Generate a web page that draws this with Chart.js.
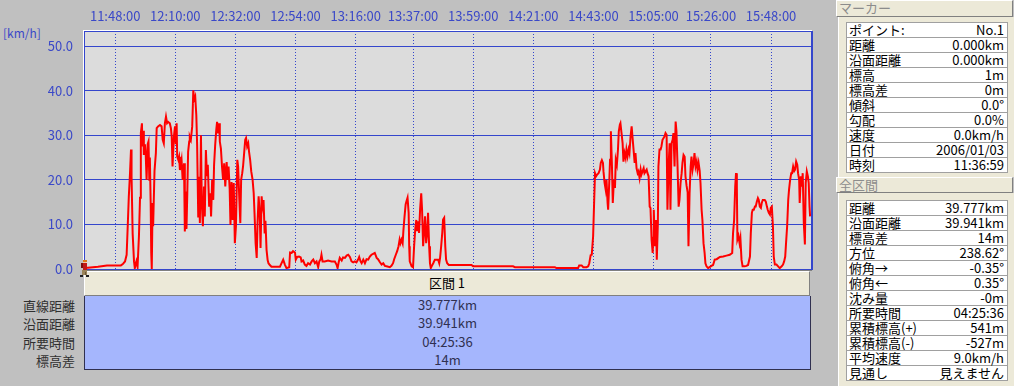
<!DOCTYPE html>
<html lang="ja">
<head>
<meta charset="utf-8">
<title>速度グラフ</title>
<script src="https://cdn.jsdelivr.net/npm/chart.js@4.4.1/dist/chart.umd.min.js"></script>
<style>
  body {
    margin: 0;
    width: 1014px;
    height: 386px;
    background: #c0c0c0;
    position: relative;
    overflow: hidden;
    font-family: "Noto Sans CJK JP", sans-serif;
  }
  #chart-wrap { position: absolute; left: 0; top: 0; width: 830px; height: 282px; z-index: 2; }
  #unit { position: absolute; left: 3px; top: 26px; font-size: 12px; line-height: 14px; color: #3a48c8; }
  #section-head {
    position: absolute; left: 84px; top: 271px; width: 726px; height: 25px;
    box-sizing: border-box; background: #ece9d8;
    border-top: 1px solid #fff; border-left: 1px solid #fff;
    border-bottom: 1px solid #808080; border-right: 1px solid #808080;
    text-align: center; font-size: 13px; line-height: 22px; color: #000;
  }
  #section-body {
    position: absolute; left: 84px; top: 296px; width: 727px; height: 74px;
    box-sizing: border-box; background: #a5b6fd;
    border: 1px solid #303050; border-top: none;
  }
  #section-labels { position: absolute; left: 0; top: 297px; width: 75px; }
  .srow { height: 18.25px; line-height: 18.25px; font-size: 13px; }
  #section-labels .srow { text-align: right; color: #303030; }
  #section-body .srow { text-align: center; color: #303050; }
  .side-head {
    position: absolute; left: 836px; width: 177px; box-sizing: border-box;
    background: #ece9d8; border-top: 1px solid #fff; border-left: 1px solid #fff;
    border-bottom: 1px solid #808080; border-right: 1px solid #808080;
    font-size: 13px; line-height: 14px; padding-left: 2px; color: #8c8c8c;
  }
  .side-panel { position: absolute; left: 838px; width: 175px; background: #ece9d8; border-left: 1px solid #fff; }
  .side-table {
    position: absolute; left: 846px; width: 162px; box-sizing: border-box;
    background: #fff; border: 1px solid #a0a0a0; border-bottom: none;
  }
  .trow {
    height: 15px; box-sizing: border-box; border-bottom: 1px solid #a0a0a0;
    display: flex; justify-content: space-between; padding: 0 3px 0 2px;
    font-size: 13px; line-height: 14px; color: #000; white-space: nowrap;
  }
</style>
</head>
<body>
<div id="chart-wrap"><canvas id="speed-chart" width="830" height="282"></canvas></div>
<div id="unit">[km/h]</div>
<div id="section-head">区間 1</div>
<div id="section-labels"></div>
<div id="section-body"></div>

<div class="side-head" style="top:0;height:17px">マーカー</div>
<div class="side-panel" style="top:17px;height:160px"></div>
<div class="side-table" id="marker-table" style="top:22px"></div>
<div class="side-head" style="top:177px;height:16px">全区間</div>
<div class="side-panel" style="top:193px;height:193px"></div>
<div class="side-table" id="total-table" style="top:200px"></div>

<script>
// Time axis: minutes elapsed since the first point (11:36:59)
const startTime = '11:36:59';
const timeTickLabels = ['11:48:00', '12:10:00', '12:32:00', '12:54:00', '13:16:00', '13:37:00',
  '13:59:00', '14:21:00', '14:43:00', '15:05:00', '15:26:00', '15:48:00'];
const speedTicks = [0, 10, 20, 30, 40, 50];

// Speed trace (elapsed minutes / km/h)
const elapsedMin = [
  0, 0.3, 1.0, 4.7, 8.0, 13.1, 13.8, 14.6, 15.2, 15.6,
  16.0, 16.4, 16.8, 17.0, 17.4, 17.9, 18.2, 18.8, 19.2, 19.7,
  20.1, 20.4, 20.8, 21.0, 21.3, 21.5, 21.9, 22.2, 22.5, 22.9,
  23.2, 23.5, 23.7, 24.0, 24.2, 24.4, 24.7, 24.9, 25.4, 25.9,
  26.2, 26.7, 27.4, 28.0, 28.4, 28.8, 29.2, 29.6, 30.0, 30.4,
  31.0, 31.4, 31.7, 32.0, 32.5, 32.9, 33.2, 33.5, 33.7, 34.1,
  34.4, 34.7, 35.3, 35.7, 36.2, 36.5, 36.9, 37.1, 37.4, 37.7,
  38.1, 38.3, 38.7, 39.2, 39.6, 39.9, 40.3, 40.7, 41.0, 41.4,
  41.6, 42.0, 42.4, 42.7, 43.1, 43.5, 43.8, 44.2, 44.6, 44.9,
  45.4, 45.8, 46.1, 46.5, 46.9, 47.2, 47.6, 48.0, 48.3, 48.7,
  49.1, 49.3, 49.7, 50.1, 50.5, 50.9, 51.3, 51.8, 52.1, 52.5,
  52.9, 53.2, 53.6, 54.0, 54.4, 54.8, 55.2, 55.7, 56.0, 56.4,
  56.8, 57.1, 57.5, 57.8, 58.2, 58.6, 58.9, 59.3, 59.7, 60.0,
  60.4, 60.8, 61.3, 61.7, 62.0, 62.4, 62.8, 63.1, 63.5, 63.9,
  64.2, 64.6, 64.9, 65.3, 65.7, 66.0, 66.4, 66.8, 67.1, 67.6,
  68.2, 71.3, 71.9, 72.5, 73.1, 73.7, 74.7, 75.0, 75.6, 76.1,
  76.8, 77.1, 77.6, 78.3, 78.9, 79.2, 79.8, 80.4, 81.0, 81.6,
  82.3, 82.9, 83.5, 84.1, 84.7, 85.3, 85.7, 86.2, 86.5, 86.9,
  87.7, 88.9, 90.2, 91.4, 92.0, 92.4, 92.8, 93.2, 93.9, 94.4,
  95.1, 95.7, 96.3, 96.9, 97.5, 98.1, 98.7, 99.3, 99.9, 100.3,
  100.8, 101.2, 101.8, 102.4, 103.0, 103.6, 104.2, 104.8, 105.4, 106.0,
  106.7, 107.2, 107.9, 108.5, 109.1, 109.7, 110.3, 111.5, 112.1, 112.7,
  113.1, 113.7, 114.2, 114.7, 115.1, 115.4, 115.8, 116.2, 116.5, 116.9,
  117.3, 117.6, 118.0, 118.4, 118.6, 118.8, 119.5, 120.0, 120.4, 120.8,
  121.2, 121.5, 121.9, 122.2, 122.6, 123.0, 123.3, 123.7, 124.1, 124.4,
  124.8, 125.2, 125.5, 125.9, 126.2, 126.5, 126.9, 127.4, 128.0, 129.2,
  129.6, 129.9, 130.3, 130.7, 131.0, 131.4, 131.8, 132.1, 132.5, 133.1,
  141.4, 142.0, 156.6, 157.3, 171.9, 172.5, 179.8, 180.4, 180.8, 181.7,
  182.3, 183.5, 184.1, 184.5, 185.0, 185.4, 185.9, 186.3, 186.6, 187.0,
  187.4, 187.9, 188.4, 188.7, 189.1, 189.5, 189.7, 190.1, 190.5, 190.8,
  191.2, 191.4, 191.8, 192.1, 192.4, 192.8, 193.1, 193.5, 193.9, 194.2,
  194.6, 195.0, 195.3, 195.7, 195.9, 196.3, 196.7, 197.0, 197.4, 197.8,
  198.1, 198.5, 198.9, 199.2, 199.6, 200.0, 200.3, 200.7, 201.1, 201.4,
  201.8, 202.2, 202.5, 202.9, 203.3, 203.6, 204.0, 204.4, 204.7, 205.1,
  205.5, 205.8, 206.2, 206.6, 206.9, 207.3, 207.7, 207.9, 208.1, 208.5,
  208.9, 209.2, 209.6, 209.8, 210.2, 210.6, 210.9, 211.3, 211.7, 212.0,
  212.4, 212.8, 213.1, 213.5, 213.9, 214.2, 214.6, 215.0, 215.3, 215.7,
  216.1, 216.4, 216.8, 217.2, 217.5, 217.9, 218.3, 218.6, 219.0, 219.4,
  219.7, 220.1, 220.5, 220.8, 221.2, 221.6, 221.9, 222.3, 222.7, 223.0,
  223.4, 223.8, 224.1, 224.5, 224.9, 225.2, 225.6, 225.9, 226.3, 226.7,
  227.0, 227.4, 228.0, 229.2, 229.8, 230.4, 231.1, 232.3, 233.5, 234.7,
  235.9, 236.8, 237.1, 237.5, 237.9, 238.2, 238.5, 238.7, 239.1, 239.5,
  239.8, 240.2, 240.6, 241.4, 242.0, 242.6, 243.3, 243.6, 244.0, 244.3,
  244.7, 245.1, 245.4, 245.8, 246.2, 246.5, 246.9, 247.3, 247.6, 248.0,
  248.4, 248.7, 249.1, 249.5, 249.8, 250.2, 250.6, 250.9, 251.3, 251.7,
  252.0, 252.4, 253.0, 253.6, 254.2, 254.9, 255.4, 255.8, 256.2, 256.5,
  256.9, 257.3, 257.6, 258.0, 258.4, 258.7, 259.1, 259.5, 259.8, 260.2,
  260.6, 260.9, 261.3, 261.5, 261.9, 262.3, 262.6, 263.0, 263.4, 263.7,
  264.1, 264.5, 264.8, 265.1, 265.3
];

const speedKmh = [
  0, 0.3, 0.3, 0.5, 0.8, 0.8, 1.1, 1.7, 3.2, 9.6,
  16.3, 21.0, 26.8, 20.8, 8.0, 1.7, 0.2, 1.7, 0.5, 7.3,
  16.0, 30.5, 32.7, 27.5, 31.0, 25.6, 28.0, 25.5, 20.0, 28.0,
  28.6, 20.0, 25.0, 14.8, 3.6, 0.0, 14.8, 9.6, 22.0, 26.0,
  31.6, 32.0, 32.3, 32.0, 29.0, 28.2, 32.7, 34.2, 32.7, 33.0,
  32.7, 31.6, 29.7, 23.0, 29.7, 32.0, 28.0, 32.7, 25.2, 24.5,
  25.2, 22.2, 24.5, 20.0, 23.7, 8.4, 17.4, 9.0, 17.0, 26.3,
  28.6, 29.7, 29.0, 32.0, 40.1, 38.0, 38.7, 34.5, 27.8, 11.8,
  20.7, 10.3, 30.0, 14.8, 9.6, 18.5, 11.8, 26.7, 20.8, 23.4,
  14.0, 17.0, 11.8, 20.0, 15.5, 23.4, 27.8, 31.2, 33.0, 30.4,
  32.7, 28.6, 27.0, 23.0, 20.0, 23.7, 18.5, 24.0, 20.0, 23.0,
  18.1, 9.9, 19.5, 11.0, 19.3, 5.8, 9.6, 24.5, 23.0, 16.3,
  10.3, 20.0, 21.5, 23.0, 26.0, 29.0, 29.4, 27.5, 28.2, 26.3,
  24.5, 21.9, 20.0, 17.0, 12.5, 5.8, 2.5, 10.3, 16.3, 12.5,
  4.7, 16.3, 14.0, 15.5, 8.0, 10.8, 4.3, 2.0, 1.3, 0.9,
  0.5, 0.5, 1.3, 2.1, 1.0, 0.2, 0.4, 3.7, 3.6, 4.0,
  3.7, 2.1, 2.7, 2.8, 2.6, 1.7, 1.9, 1.0, 0.7, 1.3,
  1.0, 1.7, 2.1, 1.3, 1.7, 0.4, 1.7, 2.2, 3.2, 1.7,
  1.7, 1.9, 1.7, 1.7, 1.0, 0.2, 1.5, 2.5, 1.9, 2.6,
  2.5, 3.0, 3.2, 2.7, 1.7, 1.5, 1.7, 1.5, 2.1, 2.7,
  1.7, 1.3, 2.1, 1.3, 2.2, 2.1, 2.8, 3.2, 3.4, 3.6,
  2.5, 2.2, 1.5, 1.0, 1.3, 0.7, 0.6, 0.4, 0.7, 1.3,
  2.2, 3.2, 4.0, 5.1, 6.6, 5.8, 6.6, 5.8, 8.8, 11.8,
  14.5, 15.2, 16.0, 12.6, 5.1, 1.7, 0.6, 0.4, 5.1, 8.8,
  11.0, 8.5, 10.7, 8.1, 13.5, 17.0, 13.5, 5.1, 8.8, 11.8,
  5.8, 8.1, 12.6, 5.1, 1.3, 0.2, 0.7, 1.3, 2.1, 2.1,
  1.3, 2.5, 5.1, 8.1, 11.1, 11.5, 5.1, 2.1, 1.3, 0.9,
  0.9, 0.6, 0.6, 0.4, 0.4, 0.2, 0.2, 0.2, 0.8, 0.8,
  0.4, 0.4, 0.6, 1.3, 3.1, 3.2, 7.3, 15.5, 21.5, 20.8,
  21.2, 21.5, 22.3, 23.8, 24.4, 23.8, 21.9, 19.3, 17.8, 20.0,
  14.8, 13.3, 19.3, 24.5, 30.9, 23.0, 14.8, 20.0, 18.2, 24.5,
  23.4, 26.8, 30.9, 32.4, 32.7, 30.5, 28.2, 24.1, 26.0, 24.9,
  26.8, 25.3, 26.8, 26.0, 29.7, 32.0, 29.7, 26.8, 23.8, 26.0,
  22.6, 21.5, 21.9, 20.4, 22.3, 21.2, 21.9, 22.6, 21.5, 21.9,
  22.3, 21.5, 20.8, 14.0, 13.7, 6.6, 3.6, 7.0, 13.3, 5.1,
  11.0, 2.1, 10.3, 23.0, 26.8, 26.8, 27.5, 29.0, 29.4, 29.7,
  30.5, 30.1, 13.3, 23.0, 28.2, 13.3, 28.2, 29.0, 30.5, 23.0,
  33.1, 30.9, 23.0, 14.0, 15.5, 19.3, 21.5, 23.8, 25.6, 25.2,
  20.8, 18.7, 17.2, 5.1, 17.0, 23.0, 25.2, 22.3, 23.8, 26.0,
  23.0, 24.1, 22.3, 23.8, 22.0, 19.3, 13.3, 11.0, 5.8, 3.6,
  1.3, 0.6, 0.2, 0.7, 0.9, 2.1, 2.2, 2.7, 2.8, 3.0,
  3.2, 3.6, 8.0, 11.0, 18.5, 21.5, 18.5, 6.6, 7.4, 5.8,
  6.9, 2.1, 0.6, 0.6, 0.7, 0.9, 2.8, 8.0, 12.6, 13.3,
  13.3, 14.0, 14.0, 15.1, 15.9, 15.5, 14.0, 13.7, 14.8, 15.5,
  15.5, 15.5, 15.1, 14.0, 13.3, 12.6, 12.2, 13.7, 14.0, 9.6,
  2.8, 1.0, 1.0, 0.6, 0.2, 0.6, 1.0, 1.7, 2.8, 5.8,
  9.6, 15.5, 17.8, 20.0, 21.5, 21.5, 23.0, 22.0, 22.3, 24.1,
  23.4, 21.5, 20.0, 14.8, 20.8, 18.5, 21.5, 10.3, 5.5, 19.3,
  21.9, 20.8, 19.3, 14.0, 11.8
];

// Table texts
const sectionLabels = ['直線距離', '沿面距離', '所要時間', '標高差'];
const sectionValues = ['39.777km', '39.941km', '04:25:36', '14m'];

const markerRows = [
  ['ポイント:', 'No.1'], ['距離', '0.000km'], ['沿面距離', '0.000km'], ['標高', '1m'],
  ['標高差', '0m'], ['傾斜', '0.0°'], ['勾配', '0.0%'], ['速度', '0.0km/h'],
  ['日付', '2006/01/03'], ['時刻', '11:36:59']
];
const totalRows = [
  ['距離', '39.777km'], ['沿面距離', '39.941km'], ['標高差', '14m'], ['方位', '238.62°'],
  ['俯角→', '-0.35°'], ['俯角←', '0.35°'], ['沈み量', '-0m'], ['所要時間', '04:25:36'],
  ['累積標高(+)', '541m'], ['累積標高(-)', '-527m'], ['平均速度', '9.0km/h'], ['見通し', '見えません']
];

function fillRows(el, texts, cls) {
  texts.forEach(t => {
    const row = document.createElement('div');
    row.className = cls;
    row.textContent = t;
    el.appendChild(row);
  });
}
fillRows(document.getElementById('section-labels'), sectionLabels, 'srow');
fillRows(document.getElementById('section-body'), sectionValues, 'srow');

function fillTable(el, rows) {
  rows.forEach(([label, value]) => {
    const row = document.createElement('div');
    row.className = 'trow';
    const a = document.createElement('span');
    a.textContent = label;
    const b = document.createElement('span');
    b.textContent = value;
    row.append(a, b);
    el.appendChild(row);
  });
}
fillTable(document.getElementById('marker-table'), markerRows);
fillTable(document.getElementById('total-table'), totalRows);

function toMinutes(s) {
  const [h, m, sec] = s.split(':').map(Number);
  return h * 60 + m + sec / 60;
}
const timeTickValues = timeTickLabels.map(l => toMinutes(l) - toMinutes(startTime));

const axisBlue = '#3a48c8';
const gridBlue = '#3446cc';
const tickFont = { family: '"Noto Sans CJK JP", sans-serif', size: 13 };

// keep the plot box fixed: no extra room for overhanging tick labels
function fixBox(axis, size) {
  if (axis.isHorizontal()) axis.height = size; else axis.width = size;
  axis.paddingTop = 0;
  axis.paddingBottom = 0;
  axis.paddingLeft = 0;
  axis.paddingRight = 0;
}

// gray plot background + window-style frame + walker icon at the marker point
const plotFrame = {
  id: 'plotFrame',
  beforeDraw(chart) {
    const { ctx, chartArea: a } = chart;
    ctx.save();
    ctx.fillStyle = '#dcdcdc';
    ctx.fillRect(a.left, a.top, a.right - a.left, a.bottom - a.top);
    ctx.restore();
  },
  afterDraw(chart) {
    const { ctx, chartArea: a, scales } = chart;
    ctx.save();
    ctx.fillStyle = '#ffffff';
    ctx.fillRect(a.left - 1, a.top - 1, a.right - a.left + 1, 1);
    ctx.fillRect(a.left - 1, a.top - 1, 1, a.bottom - a.top + 2);
    ctx.fillStyle = gridBlue;
    ctx.fillRect(a.left, a.top, a.right - a.left, 1);
    ctx.fillRect(a.left, a.top, 1, a.bottom - a.top);
    ctx.fillRect(a.left, a.bottom, a.right - a.left, 1);
    ctx.fillRect(a.right - 1, a.top, 2, a.bottom - a.top + 1);
    ctx.fillStyle = '#808080';
    ctx.fillRect(a.left, a.bottom + 1, a.right - a.left, 1);

    const px = Math.round(scales.x.getPixelForValue(elapsedMin[0]));
    const py = Math.round(scales.y.getPixelForValue(speedKmh[0]));
    const parts = [
      ['#e07818', -2, -9, 4, 2],
      ['#f0c8a0', -2, -7, 3, 1],
      ['#7a1010', -4, -6, 2, 5],
      ['#c01818', -2, -6, 4, 7],
      ['#9c8458', -3, 1, 5, 5],
      ['#6a5a3a', 0, 3, 1, 3],
      ['#202020', -5, 6, 3, 2],
      ['#202020', 1, 6, 3, 2]
    ];
    parts.forEach(([c, dx, dy, w, h]) => {
      ctx.fillStyle = c;
      ctx.fillRect(px + dx, py + dy, w, h);
    });
    ctx.restore();
  }
};

const speedChart = new Chart(document.getElementById('speed-chart'), {
  type: 'line',
  data: {
    datasets: [{
      data: elapsedMin.map((t, i) => ({ x: t, y: speedKmh[i] })),
      borderColor: '#ff0000',
      borderWidth: 2,
      pointRadius: 0,
      tension: 0,
      fill: false
    }]
  },
  options: {
    responsive: false,
    animation: false,
    layout: { padding: { left: 0, top: 0, right: 18, bottom: 13 } },
    plugins: { legend: { display: false }, tooltip: { enabled: false } },
    scales: {
      x: {
        type: 'linear',
        position: 'top',
        min: -0.4,
        max: 266,
        afterBuildTicks: axis => { axis.ticks = timeTickValues.map(v => ({ value: v })); },
        afterFit: axis => fixBox(axis, 31),
        grid: { color: gridBlue, lineWidth: 1, drawTicks: false },
        border: { display: false, dash: [1, 2] },
        ticks: {
          autoSkip: false,
          maxRotation: 0,
          padding: 7,
          color: axisBlue,
          font: tickFont,
          callback: (v, i) => timeTickLabels[i]
        }
      },
      y: {
        min: 0,
        max: 53.4,
        afterBuildTicks: axis => { axis.ticks = speedTicks.map(v => ({ value: v })); },
        afterFit: axis => fixBox(axis, 84),
        grid: { color: gridBlue, lineWidth: 1, drawTicks: false },
        border: { display: false },
        ticks: {
          padding: 11,
          color: axisBlue,
          font: tickFont,
          callback: v => v.toFixed(1)
        }
      }
    }
  },
  plugins: [plotFrame]
});
</script>
</body>
</html>
